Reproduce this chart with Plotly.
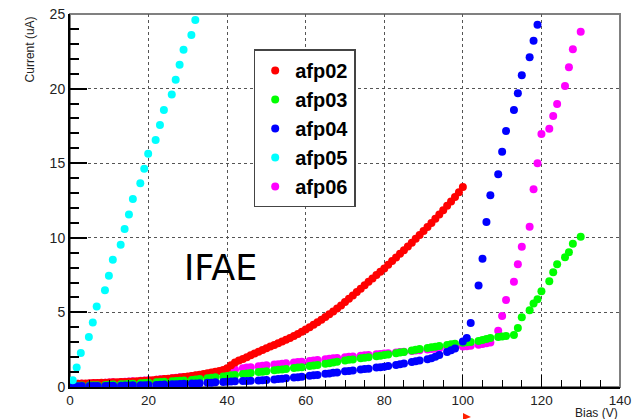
import plotly.graph_objects as go

# ---------------- data ----------------
x_dense = [0, 1, 2, 3, 5, 6, 7, 9, 10, 11, 13, 14, 15, 16, 18, 19, 20, 22, 23, 24,
           26, 27, 28, 29, 31, 32, 33, 35, 36, 37, 39, 40, 41, 42, 44, 45, 46, 48, 49, 50,
           52, 53, 54, 55, 57, 58, 59, 61, 62, 63, 65, 66, 67, 68, 70, 71, 72, 74, 75, 76,
           78, 79, 80, 81, 83, 84, 85, 87, 88, 89, 91, 92, 93, 94, 96, 97, 98, 100]

afp02_x = [0, 1, 2, 3, 4, 5, 6, 7, 8, 9, 10, 11, 12, 13, 14, 15, 16, 17, 18, 19, 20,
           21, 22, 23, 24, 25, 26, 27, 28, 29, 30, 31, 32, 33, 34, 35, 36, 37, 38, 39, 40,
           41, 42, 43, 44, 45, 46, 47, 48, 49, 50, 51, 52, 53, 54, 55, 56, 57, 58, 59, 60,
           61, 62, 63, 64, 65, 66, 67, 68, 69, 70, 71, 72, 73, 74, 75, 76, 77, 78, 79, 80,
           81, 82, 83, 84, 85, 86, 87, 88, 89, 90, 91, 92, 93, 94, 95, 96, 97, 98, 99, 100]
afp02_y = [0.20, 0.21, 0.22, 0.23, 0.24, 0.25, 0.26, 0.27, 0.28, 0.29, 0.30,
           0.31, 0.32, 0.33, 0.34, 0.35, 0.37, 0.38, 0.40, 0.42, 0.44,
           0.46, 0.48, 0.50, 0.53, 0.55, 0.58, 0.61, 0.64, 0.67, 0.70,
           0.74, 0.78, 0.82, 0.87, 0.92, 0.97, 1.02, 1.08, 1.14, 1.25,
           1.45, 1.65, 1.77, 1.88, 2.00, 2.12, 2.24, 2.36, 2.48, 2.60,
           2.71, 2.82, 2.93, 3.05, 3.17, 3.29, 3.42, 3.55, 3.70, 3.85,
           4.01, 4.17, 4.34, 4.51, 4.69, 4.87, 5.06, 5.26, 5.47, 5.70,
           5.92, 6.14, 6.36, 6.59, 6.82, 7.05, 7.28, 7.50, 7.72, 7.95,
           8.20, 8.44, 8.68, 8.93, 9.17, 9.42, 9.67, 9.93, 10.19, 10.45,
           10.72, 11.00, 11.28, 11.56, 11.85, 12.14, 12.43, 12.73, 13.05, 13.40]

afp03_x = x_dense + [101, 102, 104, 105, 106, 107, 109, 110, 111, 113, 114, 115, 117, 118,
                     119, 120, 122, 123, 124, 126, 127, 128, 130]
afp03_y = [0.08, 0.08, 0.09, 0.10, 0.11, 0.12, 0.12, 0.14, 0.15, 0.16, 0.18, 0.19, 0.21, 0.22,
           0.25, 0.27, 0.28, 0.31, 0.33, 0.35, 0.38, 0.40, 0.42, 0.43, 0.47, 0.50, 0.53, 0.58,
           0.62, 0.65, 0.71, 0.74, 0.78, 0.81, 0.87, 0.90, 0.93, 1.00, 1.03, 1.06, 1.12, 1.15,
           1.18, 1.21, 1.27, 1.30, 1.33, 1.40, 1.44, 1.48, 1.56, 1.60, 1.65, 1.69, 1.78, 1.82,
           1.85, 1.92, 1.96, 1.99, 2.06, 2.10, 2.14, 2.18, 2.26, 2.31, 2.35, 2.44, 2.49, 2.54,
           2.62, 2.66, 2.70, 2.74, 2.82, 2.86, 2.90, 2.97,
           3.00, 3.02, 3.08, 3.15, 3.22, 3.28, 3.35, 3.38, 3.42, 3.49, 3.95, 4.67, 5.14, 5.60,
           5.88, 6.41, 7.08, 7.69, 8.22, 8.69, 9.03, 9.60, 10.07]

afp04_x = x_dense + [101, 102, 104, 105, 106, 107, 109, 110, 111, 113, 114, 115, 117, 118, 119]
afp04_y = [0.05, 0.05, 0.05, 0.06, 0.06, 0.06, 0.07, 0.07, 0.08, 0.08, 0.09, 0.10, 0.10, 0.11,
           0.12, 0.12, 0.13, 0.14, 0.15, 0.16, 0.18, 0.19, 0.20, 0.21, 0.23, 0.24, 0.25, 0.28,
           0.29, 0.31, 0.34, 0.36, 0.37, 0.38, 0.40, 0.41, 0.42, 0.44, 0.45, 0.47, 0.51, 0.54,
           0.56, 0.58, 0.63, 0.66, 0.69, 0.75, 0.78, 0.81, 0.88, 0.91, 0.95, 0.98, 1.05, 1.08,
           1.11, 1.17, 1.20, 1.23, 1.30, 1.33, 1.36, 1.40, 1.48, 1.53, 1.58, 1.67, 1.72, 1.77,
           1.86, 1.92, 2.02, 2.14, 2.35, 2.46, 2.58, 3.05,
           3.28, 4.29, 6.81, 8.60, 11.06, 12.85, 14.26, 15.77, 17.16, 18.57, 19.68, 20.89,
           22.10, 23.20, 24.28]

afp05_x = [0.7, 1.7, 2.75, 4.8, 5.8, 6.8, 8.9, 9.9, 10.9, 12.9, 13.9, 15.0, 16.0, 17.9, 18.9,
           19.9, 21.8, 22.9, 23.9, 25.9, 26.9, 27.9, 28.9, 30.9, 31.9]
afp05_y = [0.45, 1.30, 2.28, 3.35, 4.33, 5.40, 6.48, 7.46, 8.53, 9.54, 10.59, 11.57, 12.60,
           13.65, 14.63, 15.64, 16.55, 17.56, 18.57, 19.60, 20.60, 21.60, 22.60, 23.60, 24.60]

afp06_x = x_dense + [101, 102, 104, 105, 106, 107, 109, 110, 111, 113, 114, 115, 117, 118,
                     119, 120, 122, 123, 124, 126, 127, 128, 130]
afp06_y = [0.20, 0.21, 0.21, 0.22, 0.24, 0.25, 0.26, 0.28, 0.30, 0.31, 0.34, 0.36, 0.37, 0.39,
           0.42, 0.43, 0.45, 0.49, 0.52, 0.54, 0.59, 0.62, 0.65, 0.67, 0.73, 0.76, 0.79, 0.85,
           0.89, 0.94, 1.04, 1.10, 1.14, 1.18, 1.26, 1.30, 1.33, 1.39, 1.42, 1.45, 1.51, 1.53,
           1.56, 1.59, 1.64, 1.67, 1.70, 1.75, 1.78, 1.81, 1.86, 1.89, 1.92, 1.94, 2.00, 2.02,
           2.05, 2.10, 2.12, 2.15, 2.20, 2.22, 2.25, 2.27, 2.32, 2.35, 2.37, 2.42, 2.45, 2.47,
           2.52, 2.55, 2.57, 2.60, 2.64, 2.66, 2.68, 2.72,
           2.73, 2.76, 2.83, 2.88, 2.93, 2.98, 3.77, 4.76, 5.83, 7.06, 8.22, 9.40, 10.74, 13.25,
           14.99, 16.96, 17.31, 18.16, 18.97, 20.17, 21.43, 22.63, 23.81]

x_ticks = [0, 20, 40, 60, 80, 100, 120, 140]
y_ticks = [0, 5, 10, 15, 20, 25]

# ---------------- figure ----------------
series = [
    ("afp06", afp06_x, afp06_y, "#ff00ff", 5),
    ("afp02", afp02_x, afp02_y, "#ff0000", 1),
    ("afp03", afp03_x, afp03_y, "#00ff00", 2),
    ("afp04", afp04_x, afp04_y, "#0000ff", 3),
    ("afp05", afp05_x, afp05_y, "#00ffff", 4),
]

fig = go.Figure()
for name, xs, ys, col, rank in series:
    fig.add_trace(go.Scatter(
        x=xs, y=ys, mode="markers", name=name, legendrank=rank,
        legendgroup=name,
        marker=dict(color=col, size=8, line=dict(width=0)),
    ))

font_main = "Liberation Sans, Arial, sans-serif"
grid = dict(showgrid=True, gridcolor="#555555", griddash="dot", gridwidth=1)

fig.update_layout(
    width=632, height=419,
    margin=dict(l=70, r=12, t=14, b=32),
    paper_bgcolor="white", plot_bgcolor="white",
    font=dict(family=font_main, size=13, color="#222222"),
    showlegend=True,
    legend=dict(
        x=0.334, y=0.905, xanchor="left", yanchor="top",
        bgcolor="white", bordercolor="#444444", borderwidth=1.5,
        font=dict(family=font_main, size=20, color="black", weight="bold"),
        tracegroupgap=0, itemwidth=30,
    ),
    xaxis=dict(
        range=[0, 140], tickvals=x_ticks, ticktext=[str(v) for v in x_ticks],
        ticks="inside", ticklen=12, tickwidth=1, tickcolor="black",
        minor=dict(dtick=5, ticks="inside", ticklen=7, tickcolor="black", showgrid=False),
        showline=True, linecolor="black", linewidth=2, zeroline=False,
        tickfont=dict(size=13.5), automargin=False, **grid,
    ),
    yaxis=dict(
        range=[0, 25], tickvals=y_ticks, ticktext=[str(v) for v in y_ticks],
        ticks="inside", ticklen=17, tickwidth=1.5, tickcolor="black",
        minor=dict(dtick=1, ticks="inside", ticklen=9, tickcolor="black", showgrid=False),
        showline=True, linecolor="black", linewidth=2, zeroline=False,
        tickfont=dict(size=14), automargin=False, **grid,
    ),
    shapes=[
        dict(type="rect", xref="paper", yref="paper", x0=0, y0=0, x1=1, y1=1,
             line=dict(color="#808080", width=2), layer="below"),
        dict(type="path", xref="paper", yref="paper",
             path="M 0.7145 -0.0697 L 0.7290 -0.0804 L 0.7145 -0.0885 Z",
             fillcolor="#ff2000", line=dict(width=0)),
    ],
    annotations=[
        dict(text="Current (uA)", xref="paper", yref="paper", x=-0.072, y=1.0,
             xanchor="center", yanchor="top", textangle=-90, showarrow=False,
             font=dict(size=12, color="#222222")),
        dict(text="Bias (V)", xref="paper", yref="paper", x=1.0, y=-0.0705,
             xanchor="right", yanchor="middle", showarrow=False,
             font=dict(size=12, color="#222222")),
        dict(text="IFAE", xref="paper", yref="paper", x=0.2734, y=0.319,
             xanchor="center", yanchor="middle", showarrow=False,
             font=dict(family="Comic Sans MS, DejaVu Sans, sans-serif", size=35, color="black")),
    ],
)

fig.write_html("out.html")
